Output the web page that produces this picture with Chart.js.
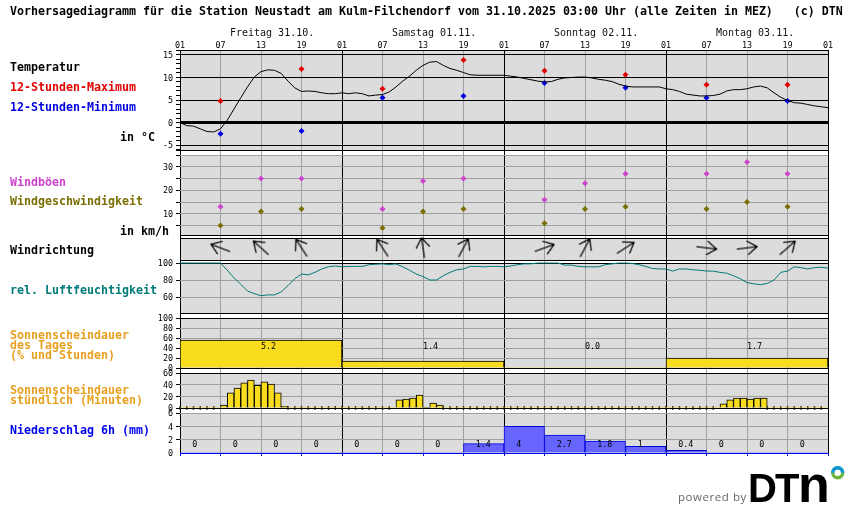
<!DOCTYPE html>
<html lang="de">
<head>
<meta charset="utf-8">
<title>Vorhersagediagramm Neustadt am Kulm-Filchendorf</title>
<script src="https://cdn.jsdelivr.net/npm/chart.js@4/dist/chart.umd.min.js"></script>
<style>
html,body{margin:0;padding:0;background:#fff;width:850px;height:524px;overflow:hidden}
canvas{position:absolute;left:0;top:0}
.t{position:absolute;font:bold 11.63px/13px "DejaVu Sans Mono",monospace;white-space:pre;color:#000;z-index:5}
svg{position:absolute;left:660px;top:455px;z-index:5}
</style>
</head>
<body>
<div class="t" style="left:10px;top:5px">Vorhersagediagramm für die Station Neustadt am Kulm-Filchendorf vom 31.10.2025 03:00 Uhr (alle Zeiten in MEZ)   (c) DTN</div>
<div class="t" style="left:10px;top:61px">Temperatur</div>
<div class="t" style="left:10px;top:81px;color:#e00000">12-Stunden-Maximum</div>
<div class="t" style="left:10px;top:101px;color:#0000e0">12-Stunden-Minimum</div>
<div class="t" style="left:120px;top:131px">in °C</div>
<div class="t" style="left:10px;top:176px;color:#cc44cc">Windböen</div>
<div class="t" style="left:10px;top:195px;color:#7a6e00">Windgeschwindigkeit</div>
<div class="t" style="left:120px;top:225px">in km/h</div>
<div class="t" style="left:10px;top:244px">Windrichtung</div>
<div class="t" style="left:10px;top:284px;color:#007a78">rel. Luftfeuchtigkeit</div>
<div class="t" style="left:10px;top:330px;color:#e8a020;line-height:10px">Sonnenscheindauer
des Tages
(% und Stunden)</div>
<div class="t" style="left:10px;top:385px;color:#e8a020;line-height:10px">Sonnenscheindauer
stündlich (Minuten)</div>
<div class="t" style="left:10px;top:424px;color:#0000f0">Niederschlag 6h (mm)</div>
<svg width="190" height="69" viewBox="0 0 190 69">
<text x="18" y="46" font-family="'Open Sans','Liberation Sans',sans-serif" font-size="11.5" letter-spacing="0.55" fill="#666">powered by</text>
<text x="88" y="47" font-family="'Liberation Sans',sans-serif" font-weight="700" font-size="40" fill="#000">D</text>
<text x="115" y="47" font-family="'Liberation Sans',sans-serif" font-weight="700" font-size="40" fill="#000">T</text>
<text x="138" y="47" font-family="'Liberation Sans',sans-serif" font-weight="700" font-size="52" fill="#000">n</text>
<circle cx="177.7" cy="17.7" r="5" fill="none" stroke="#6db33f" stroke-width="3.4"/>
<path d="M172.7 17.7a5 5 0 0 1 10 0" fill="none" stroke="#0a97d9" stroke-width="3.4"/>
</svg>
<script>
// ---- data (hour 0 = Friday 01:00) ----
const hourTickLabels = ['01','07','13','19','01','07','13','19','01','07','13','19','01','07','13','19','01'];
const dayLabels = ['Freitag 31.10.','Samstag 01.11.','Sonntag 02.11.','Montag 03.11.'];
const dayLabelHours = [7.4,31.4,55.4,79.4];

const tempHourly = [
 0,-0.7,-0.8,-1.4,-2,-2.1,-1.4,0.5,3,5.5,
 7.9,10.1,11.3,11.7,11.6,10.9,9.2,7.7,6.9,7,
 6.9,6.6,6.4,6.4,6.6,6.4,6.6,6.4,5.9,6.1,
 6.2,6.8,7.9,9.2,10.3,11.6,12.7,13.4,13.55,12.7,
 12,11.6,11.1,10.6,10.5,10.5,10.5,10.5,10.5,10.3,
 10.1,9.8,9.5,9.2,9,9.1,9.6,9.9,10,10.1,
 10.1,9.9,9.6,9.4,9.1,8.5,8.1,7.9,7.9,7.9,
 7.9,7.9,7.5,7.3,6.9,6.3,6.1,5.9,5.9,6,
 6.3,7,7.3,7.3,7.5,7.9,8.1,7.7,6.6,5.6,
 4.9,4.4,4.3,4,3.7,3.5,3.3];
const extremeHours = [6,18,30,42,54,66,78,90];
const tempMax = [4.8,11.9,7.5,13.9,11.5,10.6,8.4,8.4];
const tempMin = [-2.5,-1.9,5.5,5.9,8.8,7.7,5.5,4.8];

const windHours = [6,12,18,30,36,42,54,60,66,78,84,90];
const windGust  = [13,25,25,12,24,25,16,23,27,27,32,27];
const windSpeed = [5,11,12,4,11,12,6,12,13,12,15,13];
const windHeading = [291,312,327,327,352,28,70,28,57,97,83,49];

const humidityHourly = [
 100,100,100,100,100,100,100,91.5,82.5,75,
 67,64,61.5,62.5,62.5,66,73.5,81.5,87,86,
 89,93,95.5,96.5,95.5,96,96,96,98,98.5,
 99,98,99,95.5,91.5,87,84,80,80,85,
 89,92,93,96,96,95.5,96,96,95.5,96.5,
 98,99,99,100,100,100,100,97.5,97.5,96,
 95.5,95.5,95.5,98,99,100,100,99.5,98,96,
 93.5,93,93,90.5,93,93,92,91.5,90.5,90.5,
 89,88,85,81.5,77,75.5,74.5,76,80,89,
 90.5,95.5,94.5,93,94.5,95,94];

const sunDayLabels = ['Fr','Sa','So','Mo'];
const sunDayPercent = [56,14,0,20];
const sunDayHoursText = ['5.2','1.4','0.0','1.7'];
const sunDayLabelHours = [12,36,60,84];

const sunHourly = [
 0,0,0,0,0,0,5,26,34,43,
 48,39,45,41,26,3,0,0,0,0,
 0,0,0,0,0,0,0,0,0,0,
 0,0,14,15.5,17,22,1,8.5,5,0,
 0,0,0,0,0,0,0,0,0,0,
 0,0,0,0,0,0,0,0,0,0,
 0,0,0,0,0,0,0,0,0,0,
 0,0,0,0,0,0,0,0,0,0,
 7,14,17,17,15.5,17,17,0,0,0,
 0,0,0,0,0,0];

const precip6h = [0,0,0,0,0,0,0,1.4,4,2.7,1.8,1,0.4,0,0,0];

// ---- shared look ----
const BLACK='#000', GRAY='#a0a0a0', PANEL='#dcdcdc', NONE='rgba(0,0,0,0)';
const SMALL={family:'"DejaVu Sans Mono",monospace',size:8.4};
const WIDTH=850, HEIGHT=524, LEFT=180, RIGHT=828, AXIS_W=30;

function addCanvas(){
  const c=document.createElement('canvas');
  c.width=WIDTH;c.height=HEIGHT;
  c.style.width=WIDTH+'px';c.style.height=HEIGHT+'px';
  document.body.appendChild(c);
  return c.getContext('2d');
}
const panelBg={id:'panelBg',beforeDraw(ch){
  const a=ch.chartArea,g=ch.ctx;
  g.save();g.fillStyle=PANEL;g.fillRect(a.left,a.top,a.right-a.left,a.bottom-a.top+1);g.restore();
}};
function textLabels(items){
  return {id:'textLabels',afterDatasetsDraw(ch){
    const g=ch.ctx;g.save();
    g.font='8.4px "DejaVu Sans Mono",monospace';
    g.fillStyle=BLACK;g.textAlign='left';g.textBaseline='middle';
    items(ch).forEach(o=>g.fillText(o.text,o.x,o.y));
    g.restore();
  }};
}
const hourGrid={
  color:c=>c.tick.value%24===0?BLACK:GRAY,lineWidth:1,drawTicks:false,
};
function xHourScale(extra){
  return Object.assign({type:'linear',position:'bottom',min:0,max:96,offset:false,
    afterBuildTicks:s=>{s.ticks=[];for(let h=0;h<=96;h+=6)s.ticks.push({value:h});},
    afterFit:s=>{s.height=0;},
    grid:Object.assign({},hourGrid,{offset:false}),border:{display:false},
    ticks:{display:false}},extra||{});
}
function panel(top,bottom,cfg){
  const scales=Object.assign({
    x:xHourScale(cfg.xExtra),
    y:{type:'linear',position:'left',min:cfg.min,max:cfg.max,
      afterFit:s=>{s.width=AXIS_W;},
      afterBuildTicks:s=>{s.ticks=cfg.ticks.map(v=>({value:v}));},
      border:{display:false},
      grid:{color:c=>cfg.lineColor(c.tick.value),
            lineWidth:c=>cfg.lineWidth?cfg.lineWidth(c.tick.value):1,
            tickColor:c=>cfg.tickColor?cfg.tickColor(c.tick.value):BLACK,
            tickLength:4,tickWidth:1},
      ticks:{autoSkip:false,padding:3,labelOffset:1,font:SMALL,color:BLACK,maxRotation:0,
             callback:v=>cfg.labeled.includes(v)?String(v):''}}
  },cfg.scales||{});
  return new Chart(addCanvas(),{
    type:cfg.type||'scatter',
    data:{labels:cfg.labels,datasets:cfg.datasets},
    options:{responsive:false,animation:false,devicePixelRatio:1,
      layout:{padding:{left:LEFT-AXIS_W,right:WIDTH-RIGHT,top:top,bottom:HEIGHT-bottom}},
      plugins:{legend:{display:false},tooltip:{enabled:false},title:{display:false}},
      scales},
    plugins:[panelBg].concat(cfg.plugins||[])
  });
}
const pts=(xs,ys)=>ys.map((y,i)=>({x:xs?xs[i]:i,y}));
const lineSet=(arr,color)=>({data:pts(null,arr),showLine:true,clip:false,borderColor:color,borderWidth:1,pointRadius:0,tension:0});
const dots=(xs,ys,color)=>({data:pts(xs,ys),pointStyle:'rectRot',pointRadius:3,pointBackgroundColor:color,pointBorderColor:color,pointBorderWidth:0,showLine:false});

// ---- frame chart: full-height hour lines, hour tick labels, day captions ----
new Chart(addCanvas(),{
  type:'scatter',
  data:{datasets:[{data:[]}]},
  options:{responsive:false,animation:false,devicePixelRatio:1,
    layout:{padding:{left:LEFT,right:WIDTH-RIGHT,top:36,bottom:HEIGHT-453}},
    plugins:{legend:{display:false},tooltip:{enabled:false}},
    scales:{
      x:{type:'linear',position:'top',min:0,max:96,
        afterBuildTicks:s=>{s.ticks=hourTickLabels.map((_,i)=>({value:i*6}));},
        afterFit:s=>{s.height=14;},
        border:{display:false},
        grid:{color:hourGrid.color,lineWidth:1,drawTicks:false},
        ticks:{autoSkip:false,maxRotation:0,padding:-1,font:SMALL,color:BLACK,
               callback:(v,i)=>hourTickLabels[i]}},
      y:{display:false,min:0,max:1}
    }},
  plugins:[{id:'dayCaptions',afterDraw(ch){
    const g=ch.ctx;g.save();
    g.font='10px "DejaVu Sans Mono",monospace';g.fillStyle='#111';
    g.textAlign='left';g.textBaseline='middle';
    dayLabels.forEach((d,i)=>g.fillText(d,ch.scales.x.getPixelForValue(dayLabelHours[i]),33));
    g.restore();
  }}]
});

// ---- temperature ----
panel(50,150,{
  min:-6.11,max:16.11,
  ticks:[-6.11,-6,-5,-4,-3,-2,-1,0,1,2,3,4,5,6,7,8,9,10,11,12,13,14,15,16,16.11],
  labeled:[-5,0,5,10,15],
  lineColor:v=>(v%5===0||Math.abs(v)===6.11||v===16.11)?BLACK:NONE,
  lineWidth:v=>v===0?3:1,
  datasets:[lineSet(tempHourly,BLACK),dots(extremeHours,tempMax,'#e00000'),dots(extremeHours,tempMin,'#0000e0')]
});

// ---- wind ----
panel(155,235,{
  min:1,max:35,
  ticks:[1,5,10,15,20,25,30,35],
  labeled:[10,20,30],
  lineColor:v=>v===1?BLACK:GRAY,
  tickColor:v=>v===1?NONE:BLACK,
  datasets:[dots(windHours,windGust,'#cc44cc'),dots(windHours,windSpeed,'#7a6e00')]
});

// ---- wind direction: arrow glyph drawn once, rotated by the library per point ----
const arrow=document.createElement('canvas');
arrow.width=arrow.height=32;
(function(){const g=arrow.getContext('2d');g.strokeStyle=BLACK;g.lineWidth=1.2;
  g.beginPath();g.moveTo(16,26.2);g.lineTo(16,5.8);
  g.moveTo(9.1,15.6);g.lineTo(16,5.8);g.lineTo(22.9,15.6);g.stroke();})();
panel(238,260,{
  min:0,max:1,ticks:[0,1],labeled:[],
  lineColor:()=>BLACK,tickColor:()=>NONE,
  datasets:[{data:windHours.map(x=>({x,y:0.55})),clip:false,showLine:false,pointStyle:arrow,pointRadius:16,
             rotation:c=>windHeading[c.dataIndex]}]
});

// ---- relative humidity ----
panel(263,313,{
  min:41.2,max:100,ticks:[41.2,60,80,100],labeled:[60,80,100],
  lineColor:v=>v===60||v===80?GRAY:BLACK,
  tickColor:v=>v===41.2?NONE:BLACK,
  datasets:[lineSet(humidityHourly,'#007a78')]
});

// ---- daily sunshine ----
const barScale={xCat:{type:'category',display:false,offset:true,grid:{offset:true}}};
panel(318,368,{
  type:'bar',labels:sunDayLabels,min:0,max:100,
  ticks:[0,20,40,60,80,100],labeled:[0,20,40,60,80,100],
  lineColor:v=>v===0||v===100?BLACK:GRAY,
  scales:barScale,
  datasets:[{xAxisID:'xCat',data:sunDayPercent,backgroundColor:'#fadc1e',borderColor:BLACK,borderWidth:c=>c.raw>0?1:0,
             barPercentage:1,categoryPercentage:1}],
  plugins:[textLabels(ch=>sunDayHoursText.map((text,i)=>({text,
     x:ch.scales.x.getPixelForValue(sunDayLabelHours[i]),y:ch.scales.y.getPixelForValue(42)})))]
});

// ---- hourly sunshine ----
const hourIndex=sunHourly.map((_,i)=>String(i));
panel(373,408,{
  type:'bar',labels:hourIndex,min:0,max:60,
  ticks:[0,20,40,60],labeled:[0,20,40,60],
  lineColor:v=>v===0||v===60?BLACK:GRAY,
  scales:barScale,
  datasets:[{xAxisID:'xCat',data:sunHourly,grouped:false,backgroundColor:'#fadc1e',borderColor:BLACK,borderWidth:c=>c.raw>0?1:0,
             barPercentage:1,categoryPercentage:1},
            {type:'scatter',xAxisID:'x',clip:false,data:sunHourly.map((v,i)=>({x:i,y:v})).filter(p=>p.y===0),
             pointStyle:'line',rotation:90,pointRadius:1.8,pointBorderColor:BLACK,pointBorderWidth:1.4,showLine:false}]
});

// ---- precipitation ----
const binLabels=precip6h.map((_,i)=>String(i*6));
panel(413,453,{
  type:'bar',labels:binLabels,min:0,max:6,
  ticks:[0,2,4,6],labeled:[0,2,4,6],
  lineColor:v=>v===0?'#0000f0':GRAY,
  tickColor:v=>v===0?NONE:BLACK,
  xExtra:{grid:{color:hourGrid.color,lineWidth:1,drawTicks:true,tickLength:3,tickColor:'#0000f0',offset:false}},
  scales:barScale,
  datasets:[{xAxisID:'xCat',data:precip6h,backgroundColor:'#6666ff',borderColor:'#0000dd',borderWidth:c=>c.raw>0?1:0,
             barPercentage:1,categoryPercentage:1}],
  plugins:[textLabels(ch=>precip6h.map((v,i)=>({text:String(v),
     x:ch.scales.x.getPixelForValue(i*6+3)-8,y:ch.scales.y.getPixelForValue(1.2)})))]
});
</script>
</body>
</html>
